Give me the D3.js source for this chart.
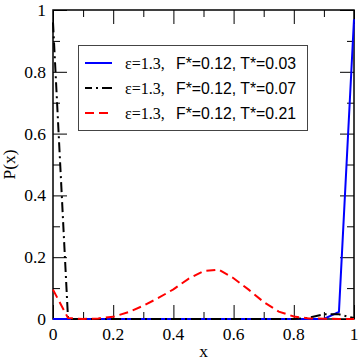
<!DOCTYPE html>
<html>
<head>
<meta charset="utf-8">
<script src="https://cdn.jsdelivr.net/npm/d3@7"></script>
<style>
  body { margin: 0; background: #fff; }
  svg { display: block; }
</style>
</head>
<body>
<script>
// values, x step 0.05
var xs = [0, 0.05, 0.1, 0.15, 0.2, 0.25, 0.3, 0.35, 0.4, 0.45, 0.5,
          0.55, 0.6, 0.65, 0.7, 0.75, 0.8, 0.85, 0.9, 0.95, 1];
var pLow = [0, 0, 0, 0, 0, 0, 0, 0, 0, 0, 0,
            0, 0, 0, 0, 0, 0, 0, 0, 0.023, 0.97];
var pMid = [0.96, 0, 0, 0, 0, 0, 0, 0, 0, 0, 0,
            0, 0, 0, 0, 0, 0, 0.004, 0.015, 0.015, 0.003];
var pHigh = [0.095, 0.003, 0, 0.002, 0.007, 0.022, 0.043, 0.068, 0.096, 0.13, 0.155,
             0.16, 0.132, 0.095, 0.055, 0.024, 0.008, 0.002, 0.001, 0, 0];
var legendLabels = ['T*=0.03', 'T*=0.07', 'T*=0.21'];
var majorTicks = [0, 0.2, 0.4, 0.6, 0.8, 1];
var minorTicks = [0.1, 0.3, 0.5, 0.7, 0.9];
var tickLabels = ['0', '0.2', '0.4', '0.6', '0.8', '1'];

var series = [
  { values: pLow, color: '#0000ff', dash: null, reverse: false },
  { values: pMid, color: '#000000', dash: '10,4,2,4', reverse: true },
  { values: pHigh, color: '#ff0000', dash: '9,5', reverse: false }
];

var plot = { left: 53, right: 354, top: 10, bottom: 319 };

var svg = d3.select('body').append('svg')
  .attr('width', 360)
  .attr('height', 360);

var x = d3.scaleLinear().domain([0, 1]).range([plot.left, plot.right]);
var y = d3.scaleLinear().domain([0, 1]).range([plot.bottom, plot.top]);

var serif = '"Liberation Serif", "DejaVu Serif", serif';
var sans = '"Liberation Sans", Arial, sans-serif';

// ticks only, labels are drawn below by hand
function addTicks(axis, transform) {
  var g = svg.append('g')
    .attr('transform', transform)
    .call(axis);
  g.select('.domain').remove();
  g.selectAll('text').remove();
  g.selectAll('line').attr('stroke', '#000').attr('stroke-width', 1);
}

[[majorTicks, -14], [minorTicks, -7]].forEach(function(t) {
  addTicks(d3.axisBottom(x).tickValues(t[0]).tickSize(t[1]), 'translate(0,' + plot.bottom + ')');
  addTicks(d3.axisTop(x).tickValues(t[0]).tickSize(t[1]), 'translate(0,' + plot.top + ')');
  addTicks(d3.axisLeft(y).tickValues(t[0]).tickSize(t[1]), 'translate(' + plot.left + ',0)');
  addTicks(d3.axisRight(y).tickValues(t[0]).tickSize(t[1]), 'translate(' + plot.right + ',0)');
});

svg.append('g')
  .selectAll('text')
  .data(majorTicks)
  .enter()
  .append('text')
  .attr('x', function(d) { return x(d); })
  .attr('y', 340)
  .attr('text-anchor', 'middle')
  .attr('font-family', serif)
  .attr('font-size', 17.5)
  .text(function(d, i) { return tickLabels[i]; });

svg.append('g')
  .selectAll('text')
  .data(majorTicks)
  .enter()
  .append('text')
  .attr('x', 46)
  .attr('y', function(d) { return y(d) + 6; })
  .attr('text-anchor', 'end')
  .attr('font-family', serif)
  .attr('font-size', 17.5)
  .text(function(d, i) { return tickLabels[i]; });

// frame
svg.append('rect')
  .attr('x', plot.left)
  .attr('y', plot.top)
  .attr('width', plot.right - plot.left)
  .attr('height', plot.bottom - plot.top)
  .attr('fill', 'none')
  .attr('stroke', '#000')
  .attr('stroke-width', 1.5);

var line = d3.line()
  .x(function(d, i) { return x(xs[i]); })
  .y(function(d) { return y(d); });

svg.selectAll('path.series')
  .data(series)
  .enter()
  .append('path')
  .attr('class', 'series')
  .attr('d', function(s) { return line(s.values); })
  .attr('fill', 'none')
  .attr('stroke', function(s) { return s.color; })
  .attr('stroke-width', 2)
  .attr('stroke-dasharray', function(s) { return s.dash; });

// axis titles
svg.append('text')
  .attr('x', x(0.5))
  .attr('y', 357)
  .attr('text-anchor', 'middle')
  .attr('font-family', serif)
  .attr('font-size', 17.5)
  .text('x');

svg.append('text')
  .attr('transform', 'translate(15,' + y(0.5) + ') rotate(-90)')
  .attr('text-anchor', 'middle')
  .attr('font-family', serif)
  .attr('font-size', 17.5)
  .text('P(x)');

// legend
var legend = svg.append('g');
legend.append('rect')
  .attr('x', 78.5)
  .attr('y', 45.5)
  .attr('width', 229)
  .attr('height', 85)
  .attr('fill', '#fff')
  .attr('stroke', '#444')
  .attr('stroke-width', 1);

var rows = legend.selectAll('g.row')
  .data(series)
  .enter()
  .append('g')
  .attr('class', 'row')
  .attr('transform', function(d, i) { return 'translate(0,' + (63 + i * 25) + ')'; });

rows.append('line')
  .attr('x1', function(s) { return s.reverse ? 112 : 85; })
  .attr('x2', function(s) { return s.reverse ? 85 : 112; })
  .attr('y1', 0)
  .attr('y2', 0)
  .attr('stroke', function(s) { return s.color; })
  .attr('stroke-width', 2)
  .attr('stroke-dasharray', function(s) { return s.dash; });

rows.append('text')
  .attr('x', 125)
  .attr('y', 5.5)
  .attr('font-family', serif)
  .attr('font-size', 16)
  .text('\u03b5=1.3,');

rows.append('text')
  .attr('x', 176)
  .attr('y', 5.5)
  .attr('font-family', sans)
  .attr('font-size', 15.8)
  .text(function(d, i) { return 'F*=0.12, ' + legendLabels[i]; });
</script>
</body>
</html>
